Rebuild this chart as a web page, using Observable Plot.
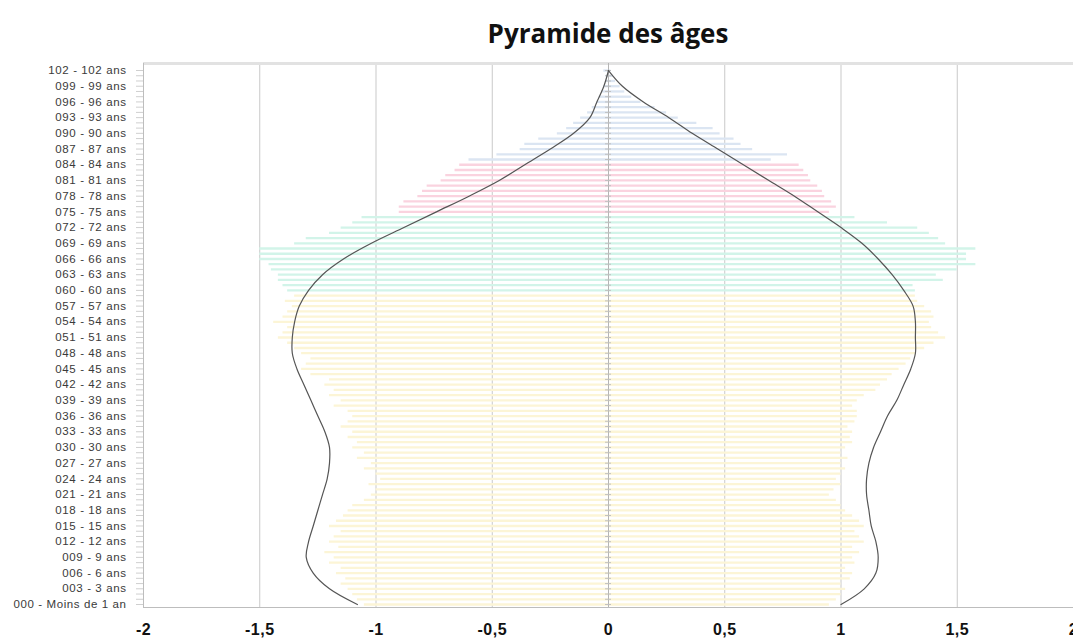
<!DOCTYPE html>
<html>
<head>
<meta charset="utf-8">
<script src="https://cdn.jsdelivr.net/npm/d3@7"></script>
<script src="https://cdn.jsdelivr.net/npm/@observablehq/plot@0.6"></script>
<style>
  html, body { margin: 0; padding: 0; background: #fff; }
  #title { width: 1073px; height: 55px; box-sizing: border-box; padding-left: 143px; text-align: center;
           font-family: "Open Sans", sans-serif; font-weight: 700; font-size: 26px; line-height: 66px; color: #111; }
  .yl text { font-family: "Liberation Sans", Arial, sans-serif; font-size: 11.5px; fill: #3a3a3a; letter-spacing: 0.6px; }
  .xl text { font-family: "Liberation Sans", Arial, sans-serif; font-size: 16px; font-weight: 700; fill: #111; letter-spacing: 0.5px; }
</style>
</head>
<body>
<div id="title">Pyramide des âges</div>
<div id="chart"></div>
<script>
// Ages 0..102
const ages = d3.range(0, 103);

// Men (left side, shown negative)
const hommes = [
  1.05,1.08,1.10,1.12,1.15,1.13,1.17,1.15,1.20,1.18,
  1.22,1.16,1.20,1.18,1.15,1.20,1.17,1.14,1.12,1.10,
  1.05,1.02,1.00,1.03,0.98,1.00,1.05,1.02,1.08,1.05,
  1.10,1.08,1.12,1.10,1.15,1.12,1.10,1.12,1.18,1.15,
  1.20,1.18,1.22,1.20,1.28,1.32,1.30,1.28,1.32,1.35,
  1.38,1.42,1.40,1.38,1.44,1.40,1.38,1.36,1.39,1.35,
  1.38,1.40,1.42,1.42,1.45,1.46,1.50,1.50,1.50,1.35,
  1.30,1.20,1.15,1.10,1.06,0.90,0.90,0.88,0.82,0.80,
  0.78,0.72,0.70,0.66,0.64,0.60,0.48,0.38,0.36,0.30,
  0.22,0.18,0.15,0.12,0.09,0.07,0.05,0.04,0.03,0.02,
  0.01,0.01,0.02
];

// Women (right side)
const femmes = [
  0.95,0.98,1.00,1.02,1.00,1.04,1.05,1.02,1.06,1.05,
  1.08,1.05,1.10,1.08,1.06,1.10,1.08,1.05,1.02,1.00,
  0.98,0.95,0.97,1.00,0.98,1.00,1.02,1.00,1.03,1.00,
  1.02,1.05,1.04,1.05,1.03,1.06,1.07,1.07,1.05,1.07,
  1.10,1.15,1.17,1.20,1.22,1.25,1.28,1.30,1.32,1.36,
  1.40,1.45,1.42,1.39,1.38,1.40,1.39,1.36,1.33,1.32,
  1.32,1.31,1.44,1.41,1.50,1.58,1.54,1.54,1.58,1.45,
  1.42,1.38,1.33,1.20,1.06,0.95,0.98,0.96,0.93,0.92,
  0.90,0.87,0.86,0.84,0.82,0.70,0.77,0.62,0.57,0.54,
  0.48,0.45,0.38,0.30,0.25,0.20,0.14,0.10,0.07,0.05,
  0.03,0.02,0.01
];

// Reference curve (every 3 years)
const courbeAges = [0,3,6,9,12,15,18,21,24,27,30,33,36,39,42,45,48,51,54,57,60,63,66,69,72,75,78,81,84,87,90,93,96,99,102];
const courbeHommes = [1.08,1.20,1.27,1.30,1.29,1.27,1.25,1.23,1.21,1.20,1.20,1.22,1.25,1.28,1.31,1.34,1.36,1.36,1.35,1.33,1.29,1.23,1.14,1.02,0.88,0.74,0.60,0.47,0.36,0.25,0.15,0.08,0.05,0.02,0.0];
const courbeFemmes = [1.00,1.10,1.15,1.16,1.15,1.13,1.12,1.11,1.11,1.12,1.14,1.17,1.20,1.24,1.27,1.30,1.32,1.32,1.32,1.31,1.27,1.22,1.16,1.09,1.00,0.90,0.80,0.69,0.58,0.47,0.36,0.26,0.15,0.06,0.0];

// Age groups (lower bound) and their colours
const groupes = [0, 60, 75, 85];
const couleurs = ["#fcf5d6", "#d2f4e9", "#fad3df", "#dbe5f2"];

// Axis ticks
const xTicks = [-2, -1.5, -1, -0.5, 0, 0.5, 1, 1.5, 2];
const yTickAges = [0,3,6,9,12,15,18,21,24,27,30,33,36,39,42,45,48,51,54,57,60,63,66,69,72,75,78,81,84,87,90,93,96,99,102];
const yTickLabels = ["000 - Moins de 1 an","003 - 3 ans","006 - 6 ans","009 - 9 ans","012 - 12 ans","015 - 15 ans","018 - 18 ans",
  "021 - 21 ans","024 - 24 ans","027 - 27 ans","030 - 30 ans","033 - 33 ans","036 - 36 ans","039 - 39 ans","042 - 42 ans",
  "045 - 45 ans","048 - 48 ans","051 - 51 ans","054 - 54 ans","057 - 57 ans","060 - 60 ans","063 - 63 ans","066 - 66 ans",
  "069 - 69 ans","072 - 72 ans","075 - 75 ans","078 - 78 ans","081 - 81 ans","084 - 84 ans","087 - 87 ans","090 - 90 ans",
  "093 - 93 ans","096 - 96 ans","099 - 99 ans","102 - 102 ans"];

const colorOf = age => couleurs[d3.bisectRight(groupes, age) - 1];

const rows = [];
ages.forEach((a, i) => {
  rows.push({age: a, value: -hommes[i], sexe: "H"});
  rows.push({age: a, value: femmes[i], sexe: "F"});
});
const curveH = courbeAges.map((a, i) => ({age: a, value: -courbeHommes[i]}));
const curveF = courbeAges.map((a, i) => ({age: a, value: courbeFemmes[i]}));

const yMin = -0.57, yMax = 103.34;
const fmt = v => String(v).replace(".", ",");

const chart = Plot.plot({
  width: 1073,
  height: 586,
  marginLeft: 143,
  marginRight: 0,
  marginTop: 8,
  marginBottom: 34,
  x: {domain: [-2, 2], label: null},
  y: {domain: [yMin, yMax], label: null},
  marks: [
    Plot.ruleX(xTicks, {stroke: "#c9c9c9", strokeWidth: 1}),
    Plot.ruleY([yMax], {stroke: "#e2e2e2", strokeWidth: 3}),
    Plot.ruleY(rows, {y: "age", x1: 0, x2: "value", stroke: d => colorOf(d.age), strokeWidth: 2.3}),
    Plot.ruleX([0], {stroke: "#b5b5b5"}),
    Plot.ruleY(ages, {x1: 0, x2: 0, insetLeft: -3, insetRight: -3, stroke: "#c0c0c0", strokeWidth: 1}),
    Plot.ruleX([-2], {stroke: "#bdbdbd"}),
    Plot.ruleY([yMin], {stroke: "#bdbdbd"}),
    Plot.line(curveH, {x: "value", y: "age", curve: "catmull-rom", stroke: "#555", strokeWidth: 1.2}),
    Plot.line(curveF, {x: "value", y: "age", curve: "catmull-rom", stroke: "#555", strokeWidth: 1.2}),
    Plot.axisY({ticks: ages, tickSize: 7, tickFormat: () => "", stroke: "#cfcfcf", label: null}),
    Plot.axisY({ticks: yTickAges, tickSize: 0, tickPadding: 17, className: "yl", label: null,
                tickFormat: a => yTickLabels[yTickAges.indexOf(a)], fontSize: 11.5}),
    Plot.axisX({ticks: xTicks, tickSize: 0, tickPadding: 16, className: "xl", label: null, tickFormat: fmt, fontSize: 16})
  ]
});
document.getElementById("chart").appendChild(chart);
</script>
</body>
</html>
